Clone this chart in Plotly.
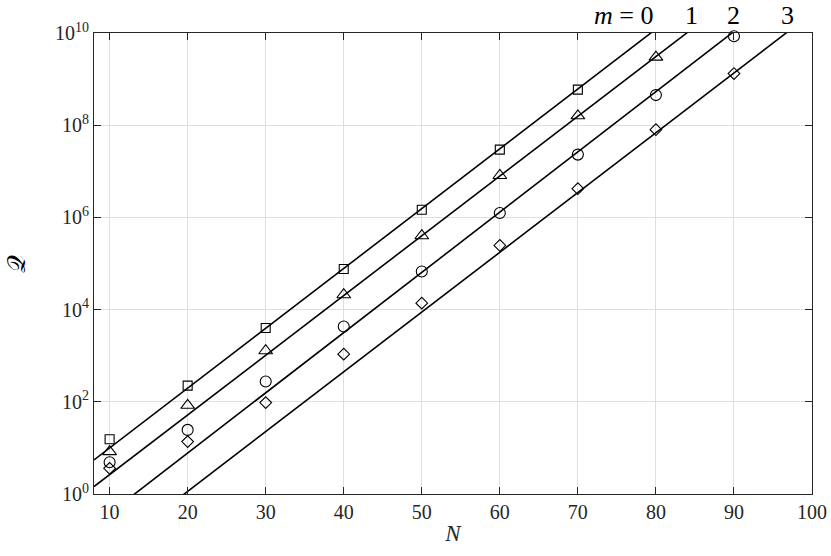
import plotly.graph_objects as go

n_m0 = [10, 20, 30, 40, 50, 60, 70]
q_m0 = [15.4, 224, 4000, 7.6e4, 1.47e6, 2.95e7, 5.9e8]

n_m1 = [10, 20, 30, 40, 50, 60, 70, 80]
q_m1 = [8.3, 84, 1280, 2.1e4, 4.0e5, 8.1e6, 1.6e8, 3.0e9]

n_m2 = [10, 20, 30, 40, 50, 60, 70, 80, 90]
q_m2 = [4.9, 24.6, 275, 4300, 6.7e4, 1.25e6, 2.3e7, 4.5e8, 8.5e9]

n_m3 = [10, 20, 30, 40, 50, 60, 70, 80, 90]
q_m3 = [3.6, 13.7, 96, 1080, 1.38e4, 2.46e5, 4.2e6, 8.0e7, 1.32e9]

# Fitted straight lines (log scale): value at N=8 and at N=100
fit_n = [8, 100]
fit_q = {
    0: [10 ** 0.74, 10 ** 12.68],
    1: [10 ** 0.16, 10 ** 12.08],
    2: [10 ** -0.68, 10 ** 11.34],
    3: [10 ** -1.50, 10 ** 10.43],
}

# where each fit line leaves the top of the box (for the labels)
label_n = [79.9, 84.6, 89.9, 96.9]
label_text = ["<i>m</i>&nbsp;=&nbsp;0", "1", "2", "3"]

x_ticks = [10, 20, 30, 40, 50, 60, 70, 80, 90, 100]
y_ticks = [1, 1e2, 1e4, 1e6, 1e8, 1e10]
y_ticktext = ["10<sup>0</sup>", "10<sup>2</sup>", "10<sup>4</sup>",
              "10<sup>6</sup>", "10<sup>8</sup>", "10<sup>10</sup>"]

FONT = "Liberation Serif"
AXIS_COLOR = "#262626"
GRID_COLOR = "#dfdfdf"

fig = go.Figure()

for m in range(4):
    fig.add_trace(go.Scatter(
        x=fit_n, y=fit_q[m], mode="lines",
        line=dict(color="black", width=1.6),
        showlegend=False, hoverinfo="skip",
    ))

series = [
    (n_m0, q_m0, "square-open", 9),
    (n_m1, q_m1, "triangle-up-open", 12),
    (n_m2, q_m2, "circle-open", 11),
    (n_m3, q_m3, "diamond-open", 9),
]
for xs, ys, sym, size in series:
    fig.add_trace(go.Scatter(
        x=xs, y=ys, mode="markers",
        marker=dict(symbol=sym, size=size, color="black",
                    line=dict(color="black", width=1.1)),
        cliponaxis=False, showlegend=False,
    ))

for n, txt in zip(label_n, label_text):
    fig.add_annotation(
        x=n, y=1.0, xref="x", yref="paper",
        text=txt, showarrow=False,
        xanchor="right" if txt.startswith("<i>") else "center",
        yanchor="bottom", yshift=1,
        font=dict(family=FONT, size=26, color="black"),
    )

fig.update_xaxes(
    range=[8, 100], tickvals=x_ticks, automargin=False,
    showgrid=True, gridcolor=GRID_COLOR, gridwidth=1,
    showline=True, linecolor=AXIS_COLOR, linewidth=1.2, mirror="ticks",
    ticks="inside", ticklen=7, tickcolor=AXIS_COLOR, tickwidth=1.2,
    zeroline=False,
    tickfont=dict(family=FONT, size=20, color=AXIS_COLOR),
    title=dict(text="<i>N</i>", font=dict(family=FONT, size=23, color=AXIS_COLOR),
               standoff=2),
)
fig.update_yaxes(
    type="log", range=[0, 10], tickvals=y_ticks, ticktext=y_ticktext,
    automargin=False,
    showgrid=True, gridcolor=GRID_COLOR, gridwidth=1,
    showline=True, linecolor=AXIS_COLOR, linewidth=1.2, mirror="ticks",
    ticks="inside", ticklen=7, tickcolor=AXIS_COLOR, tickwidth=1.2,
    zeroline=False,
    tickfont=dict(family=FONT, size=20, color=AXIS_COLOR),
    title=dict(text="𝒬", font=dict(family=FONT, size=25, color="black"),
               standoff=22),
)

fig.update_layout(
    width=831, height=556,
    margin=dict(l=94, r=19, t=33, b=62),
    plot_bgcolor="white", paper_bgcolor="white",
    font=dict(family=FONT),
)

# drop the browser's default 8px body margin so the figure sits at 0,0
fig.write_html("out.html", config={"displayModeBar": False},
               post_script="document.body.style.margin='0';")
